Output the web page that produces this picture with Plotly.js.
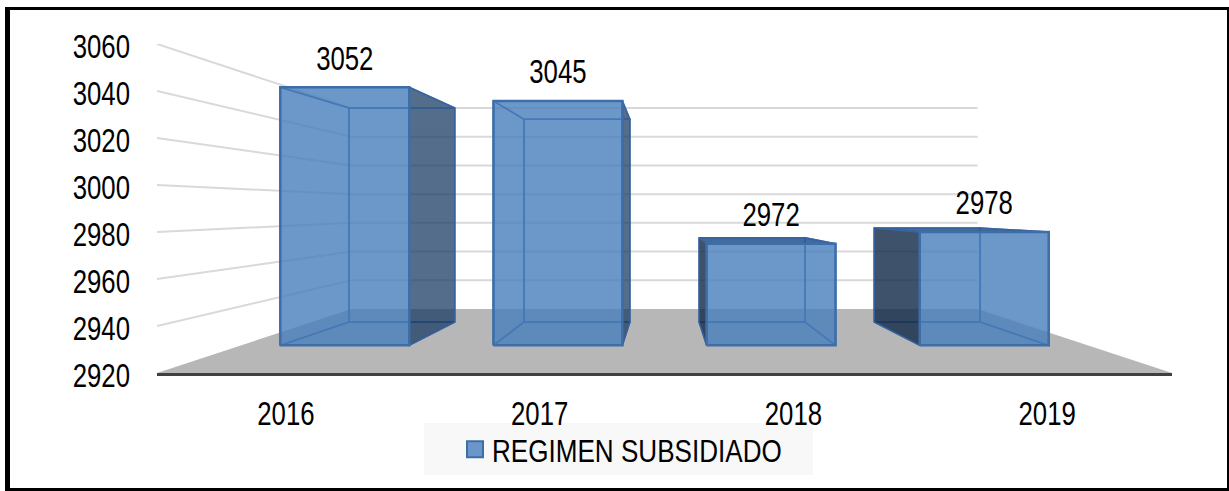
<!DOCTYPE html>
<html><head><meta charset="utf-8">
<script src="https://cdn.plot.ly/plotly-3.0.1.min.js"></script>
<style>html,body{margin:0;padding:0;background:#fff}#c{width:1229px;height:491px}</style>
</head><body><div id="c"></div>
<script>
const years = ['2016','2017','2018','2019'];
const values = [3052,3045,2972,2978];
const yTicks = [2920,2940,2960,2980,3000,3020,3040,3060];
const seriesName = 'REGIMEN SUBSIDIADO';

const W = 1229, H = 491;
const FONT = '"Liberation Sans",Arial,sans-serif';
const BASE = 2920, VX = 1.5, VY = 2990, HALF = 0.3025, LABEL_LIFT = 4;
const FRONT_PLANE = {x:0.84, y:0.832}, BACK_PLANE = {x:0.69, y:0.69}, WALL = {x:0.617, y:0.611}, AXIS_PLANE = {x:1, y:1};
const proj = (x, v, s) => [VX + s.x*(x-VX), VY + s.y*(v-VY)];

const traces = [];
function poly(pts, fill, line, lw, close=true){
  const p = close ? pts.concat([pts[0]]) : pts;
  traces.push({type:'scatter', mode: line ? 'lines' : 'none', x:p.map(a=>a[0]), y:p.map(a=>a[1]),
    fill: fill ? 'toself' : 'none', fillcolor: fill || undefined,
    line:{color: line || 'rgba(0,0,0,0)', width: lw || 1}, hoverinfo:'skip', showlegend:false, cliponaxis:false});
}
// back wall gridlines
yTicks.slice(1).forEach(v => {
  poly([proj(-0.5,v,AXIS_PLANE), proj(-0.5,v,WALL), proj(3.5,v,WALL)], null, '#d9d9d9', 2, false);
});
// floor
poly([proj(-0.5,BASE,AXIS_PLANE), proj(-0.5,BASE,WALL), proj(3.5,BASE,WALL), proj(3.5,BASE,AXIS_PLANE)], '#b7b7b7', null);

const DARK_R = 'rgba(25,60,100,0.75)', DARK_L = 'rgba(20,45,75,0.82)', TOP = 'rgba(45,90,145,0.9)', FRONT = 'rgba(71,125,188,0.8)';
const EDGE_IN = 'rgba(55,100,160,0.9)', EDGE = '#3d6ea8';
values.forEach((v,i) => {
  const l=i-HALF, r=i+HALF;
  const fl=proj(l,BASE,FRONT_PLANE), fr=proj(r,BASE,FRONT_PLANE), ftl=proj(l,v,FRONT_PLANE), ftr=proj(r,v,FRONT_PLANE);
  const bl=proj(l,BASE,BACK_PLANE), br=proj(r,BASE,BACK_PLANE), btl=proj(l,v,BACK_PLANE), btr=proj(r,v,BACK_PLANE);
  // back rectangle and bottom edges
  poly([bl,br,btr,btl], null, EDGE_IN, 1.5);
  poly([fl,bl,br,fr], null, EDGE_IN, 1.5);
  // sides
  poly([ftl,btl,bl,fl], bl[0]<fl[0] ? DARK_L : null, EDGE_IN, 1.5);
  poly([ftr,btr,br,fr], br[0]>fr[0] ? DARK_R : null, EDGE_IN, 1.5);
  // top
  poly([ftl,ftr,btr,btl], btl[1]>ftl[1] ? TOP : null, EDGE_IN, 1.5);
  // front
  poly([fl,fr,ftr,ftl], FRONT, EDGE, 2.5);
});
// value labels
traces.push({type:'scatter', mode:'text', x:values.map((v,i)=>proj(i,v,FRONT_PLANE)[0]), y:values.map((v,i)=>proj(i,v,FRONT_PLANE)[1]+LABEL_LIFT),
  text:values.map(String), textposition:'top center', textfont:{family:FONT,size:33,color:'#000'},
  hoverinfo:'skip', showlegend:false, cliponaxis:false});
// legend entry
traces.push({type:'scatter', mode:'markers', x:[null], y:[null], name:seriesName,
  marker:{symbol:'square', size:16, color:'#6b96c9', line:{color:'#3d6ea8', width:2}}, hoverinfo:'skip'});

const px = (x0,y0,x1,y1,fill) => ({type:'rect', xref:'paper', yref:'paper', layer:'below',
  x0:(x0-157)/1015, x1:(x1-157)/1015, y0:(373-y0)/329, y1:(373-y1)/329, fillcolor:fill, line:{width:0}});

const layout = {
  width:W, height:H, margin:{l:157, r:57, t:44, b:118, pad:0, autoexpand:false},
  paper_bgcolor:'#fff', plot_bgcolor:'rgba(0,0,0,0)',
  font:{family:FONT, color:'#000', size:31},
  xaxis:{type:'linear', range:[-0.5,3.5], tickvals:[0,1,2,3], ticktext:years, showgrid:false, zeroline:false,
    showline:true, linecolor:'#404040', linewidth:3, ticks:'', ticklabelstandoff:9, ticklabelshift:2, tickfont:{family:FONT,size:33,color:'#000'}, fixedrange:true},
  yaxis:{type:'linear', range:[2920,3060], tickvals:yTicks, ticktext:yTicks.map(String), showgrid:false, zeroline:false,
    showline:false, ticks:'', ticklabelstandoff:26, ticklabelshift:2, tickfont:{family:FONT,size:33,color:'#000'}, fixedrange:true},
  showlegend:true,
  legend:{xref:'container', yref:'container', x:455/W, y:1-422/H, xanchor:'left', yanchor:'top', bgcolor:'rgba(0,0,0,0)',
    font:{family:FONT,size:32,color:'#000'}, itemwidth:30, borderwidth:0},
  shapes:[
    px(424,423,813,475,'#f8f8f8'),
    px(5,7,10,491,'#000'), px(5,7,1229,10,'#000'), px(5,488,1229,491,'#000'), px(1227,7,1229,491,'#000')
  ]
};
Plotly.newPlot('c', traces, layout, {displayModeBar:false, staticPlot:true}).then(gd => {
  // the reference type is a condensed grotesque: squeeze the real text horizontally
  gd.querySelectorAll('.xtick text, .ytick text, .textpoint text').forEach(t => {
    t.setAttribute('textLength', (t.getComputedTextLength()*0.78).toFixed(1));
    t.setAttribute('lengthAdjust', 'spacingAndGlyphs');
  });
  gd.querySelectorAll('.legendtext').forEach(t => {
    t.setAttribute('textLength', (t.getComputedTextLength()*0.815).toFixed(1));
    t.setAttribute('lengthAdjust', 'spacingAndGlyphs');
    t.setAttribute('x', parseFloat(t.getAttribute('x')) - 3);
  });
});
</script></body></html>
